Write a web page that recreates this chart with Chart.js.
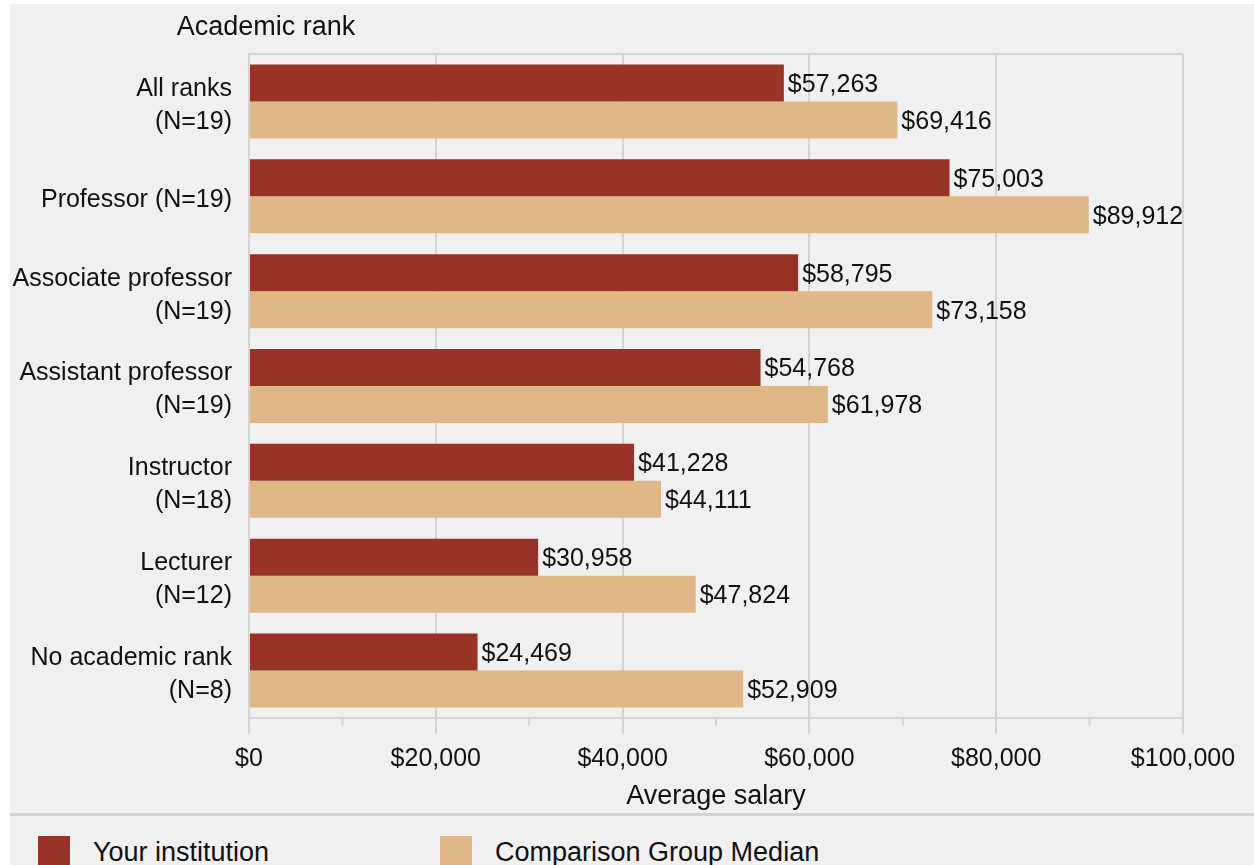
<!DOCTYPE html>
<html>
<head>
<meta charset="utf-8">
<script src="https://cdn.jsdelivr.net/npm/chart.js@4"></script>
<style>
    html, body {margin: 0; padding: 0; background: #fff; overflow: hidden;}
    body {width: 1254px; height: 865px;}
    #panel {position: absolute; left: 10px; top: 4px; width: 1244px; height: 870px; background: #f0f0f0;}
    #wrap {width: 1244px; height: 809px;}
    #sep {height: 3px; background: #d4d4d4;}
    #legend {position: relative; font-family: "Liberation Sans", Arial, sans-serif; font-size: 27px; color: #111;}
    .item {position: absolute; top: 20px; display: flex; align-items: center;}
    .box {width: 32px; height: 32px; margin-right: 23px;}
</style>
</head>
<body>
<div id="panel">
    <div id="wrap"><canvas id="myChart" width="1244" height="809"></canvas></div>
    <div id="sep"></div>
    <div id="legend"></div>
</div>
<script>
const categories = [
    ["All ranks", "(N=19)"],
    "Professor (N=19)",
    ["Associate professor", "(N=19)"],
    ["Assistant professor", "(N=19)"],
    ["Instructor", "(N=18)"],
    ["Lecturer", "(N=12)"],
    ["No academic rank", "(N=8)"]
];
const yourInstitution = [57263, 75003, 58795, 54768, 41228, 30958, 24469];
const comparisonMedian = [69416, 89912, 73158, 61978, 44111, 47824, 52909];
const minorTicks = [10000, 30000, 50000, 70000, 90000];

const FONT = "'Liberation Sans', Arial, sans-serif";
const RED = "#983326";
const TAN = "#e0b787";
const LINE = "#d4d4d4";

const money = v => "$" + v.toLocaleString("en-US");

const extras = {
    id: "extras",
    afterDraw(chart) {
        const {ctx, chartArea} = chart;
        const x = chart.scales.x;
        ctx.save();
        ctx.strokeStyle = LINE;
        ctx.lineWidth = 2;
        ctx.beginPath();
        ctx.moveTo(chartArea.left, chartArea.top);
        ctx.lineTo(chartArea.right, chartArea.top);
        minorTicks.forEach(v => {
            const px = x.getPixelForValue(v);
            ctx.moveTo(px, chartArea.bottom);
            ctx.lineTo(px, chartArea.bottom + 8);
        });
        ctx.stroke();

        ctx.fillStyle = "#111";
        ctx.font = "27px " + FONT;
        ctx.textAlign = "center";
        ctx.textBaseline = "middle";
        ctx.fillText("Academic rank", chartArea.left + 17, 24);

        // value labels
        ctx.font = "25px " + FONT;
        ctx.textAlign = "left";
        chart.data.datasets.forEach((ds, i) => {
            chart.getDatasetMeta(i).data.forEach((bar, j) => {
                ctx.fillText(money(ds.data[j]), bar.x + 4, bar.y + 2);
            });
        });
        ctx.restore();
    }
};

const ctx = document.getElementById("myChart").getContext("2d");
const myChart = new Chart(ctx, {
    type: "bar",
    data: {
        labels: categories,
        datasets: [
            {
                label: "Your institution",
                data: yourInstitution,
                backgroundColor: RED,
                categoryPercentage: 0.78,
                barPercentage: 1.0,
            },
            {
                label: "Comparison Group Median",
                data: comparisonMedian,
                backgroundColor: TAN,
                categoryPercentage: 0.78,
                barPercentage: 1.0,
            }
        ]
    },
    options: {
        indexAxis: "y",
        responsive: false,
        animation: false,
        layout: {
            padding: {left: 0, right: 71, top: 50, bottom: 0}
        },
        plugins: {
            legend: {display: false},
            tooltip: {enabled: false},
        },
        scales: {
            x: {
                min: 0,
                max: 100000,
                ticks: {
                    stepSize: 20000,
                    padding: 10,
                    color: "#111",
                    font: {family: FONT, size: 25},
                    callback: v => money(v),
                },
                grid: {color: LINE, lineWidth: 2, tickLength: 16, tickColor: LINE},
                border: {color: LINE, width: 2},
                title: {
                    display: true,
                    text: "Average salary",
                    color: "#111",
                    font: {family: FONT, size: 27},
                    padding: {top: 0, bottom: 0},
                },
                afterFit: scale => { scale.height = 95; },
            },
            y: {
                ticks: {
                    padding: 17,
                    labelOffset: 4,
                    color: "#111",
                    font: {family: FONT, size: 25, lineHeight: 1.32},
                },
                grid: {display: false, drawTicks: false},
                border: {display: true, color: LINE, width: 2},
                afterFit: scale => { scale.width = 239; },
            }
        }
    },
    plugins: [extras]
});

// legend drawn in html from the dataset colours
const legend = document.getElementById("legend");
const lefts = [28, 430];
myChart.data.datasets.forEach((ds, i) => {
    const item = document.createElement("div");
    item.className = "item";
    item.style.left = lefts[i] + "px";
    item.innerHTML = '<div class="box" style="background:' + ds.backgroundColor + '"></div><span>' + ds.label + '</span>';
    legend.appendChild(item);
});
</script>
</body>
</html>
